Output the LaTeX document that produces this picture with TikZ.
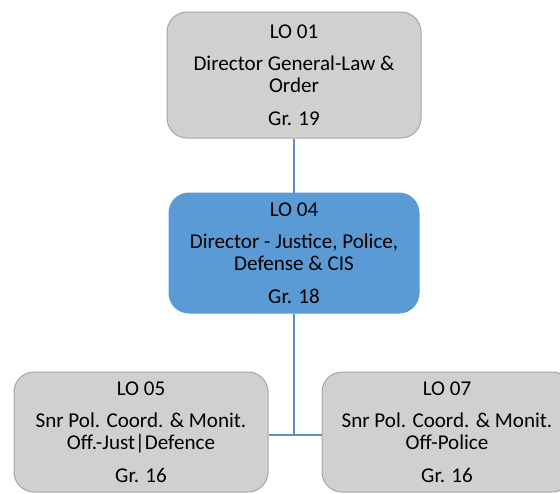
\documentclass[tikz,border=0pt]{standalone}
\usepackage{fontspec}
\setmainfont{Carlito}
\definecolor{boxgray}{HTML}{D0D0D0}
\definecolor{edgegray}{HTML}{A6A6A6}
\definecolor{boxblue}{HTML}{5B9BD5}
\definecolor{linkblue}{HTML}{5B8FC7}

\begin{document}
\begin{tikzpicture}[
x=0.75pt, y=-0.75pt,
post/.style={rectangle, rounded corners=15pt, align=center, inner sep=0pt,
    font=\fontsize{15.8}{16.5}\selectfont, text=black},
grayed/.style={post, draw=edgegray, fill=boxgray, line width=0.75pt},
blued/.style={post, draw=boxblue, fill=boxblue, line width=0.75pt},
link/.style={draw=linkblue, line width=1.5pt},
]
\useasboundingbox (0,0) rectangle (560,493);

\node (lo01)[grayed, minimum width=190.5pt, minimum height=94.5pt] at (294,75)
  {LO 01\\[8pt]Director General-Law \&\\Order\\[8pt]Gr. 19};
\node (lo04)[blued, minimum width=187.5pt, minimum height=90pt] at (294,253)
  {LO 04\\[8pt]Director - Justice, Police,\\Defense \& CIS\\[8pt]Gr. 18};
\node (lo05)[grayed, minimum width=190.5pt, minimum height=90pt] at (141,432)
  {LO 05\\[8pt]Snr Pol. Coord. \& Monit.\\Off.-Just|Defence\\[8pt]Gr. 16};
\node (lo07)[grayed, minimum width=187.5pt, minimum height=90pt] at (447,432)
  {LO 07\\[8pt]Snr Pol. Coord. \& Monit.\\Off-Police\\[8pt]Gr. 16};

\coordinate (hub) at (294,435);

\draw[link] (lo01) -- (lo04);
\draw[link] (lo04) -- (hub);
\draw[link] (hub -| lo05.east) -- (hub -| lo07.west);

\end{tikzpicture}
\end{document}
